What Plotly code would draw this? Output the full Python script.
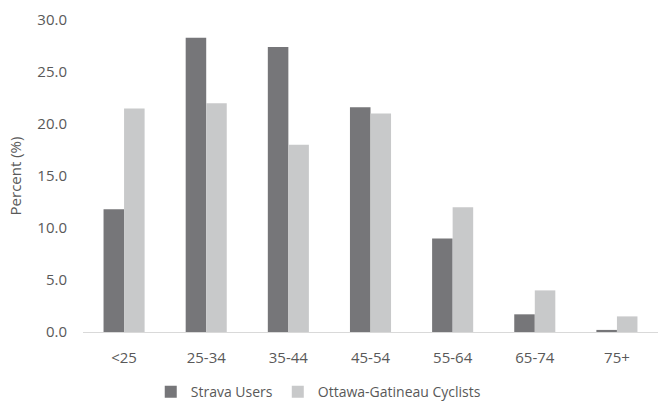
import plotly.graph_objects as go

categories = ["<25", "25-34", "35-44", "45-54", "55-64", "65-74", "75+"]
strava = [11.8, 28.3, 27.4, 21.6, 9.0, 1.7, 0.2]
ottawa = [21.5, 22.0, 18.0, 21.0, 12.0, 4.0, 1.5]

fig = go.Figure()
fig.add_trace(go.Bar(x=categories, y=strava, name="Strava Users",
                     marker=dict(color="#767679", line=dict(width=0))))
fig.add_trace(go.Bar(x=categories, y=ottawa, name="Ottawa-Gatineau Cyclists",
                     marker=dict(color="#c8c9ca", line=dict(width=0))))

font = "Open Sans, Noto Sans, sans-serif"
fig.update_layout(
    width=658, height=401,
    margin=dict(l=83, r=0, t=20, b=69),
    plot_bgcolor="white", paper_bgcolor="white",
    barmode="group", bargap=0.5, bargroupgap=0,
    font=dict(family=font, size=15, color="#595959"),
    showlegend=True,
    legend=dict(orientation="h", x=0.41, xanchor="center",
                yref="container", y=0.022, yanchor="middle",
                font=dict(size=14, color="#595959"), itemwidth=30,
                tracegroupgap=0, traceorder="normal"),
    xaxis=dict(showline=True, linecolor="#d9d9d9", linewidth=1, ticks="",
               showgrid=False, ticklabelstandoff=12,
               tickfont=dict(size=15, color="#595959")),
    yaxis=dict(range=[0, 30], dtick=5, tickformat=".1f", showgrid=False,
               zeroline=False, showline=False, ticks="", ticklen=0,
               ticklabelstandoff=15,
               tickfont=dict(size=15, color="#595959"),
               title=dict(text="Percent (%)", font=dict(size=15, color="#595959"), standoff=12)),
)
fig.write_html("out.html")
